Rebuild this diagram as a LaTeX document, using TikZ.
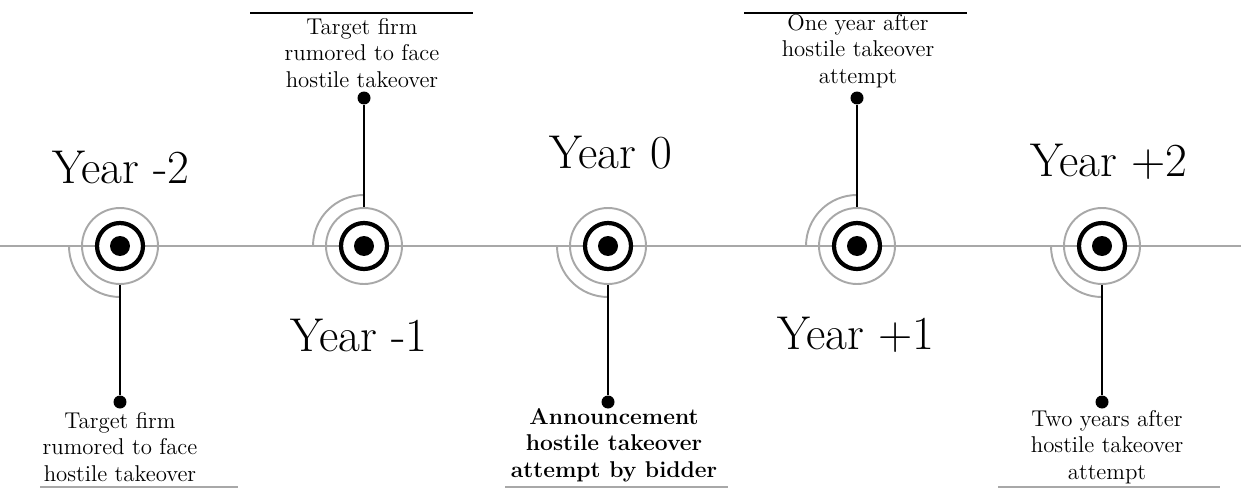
\documentclass[tikz,border=0pt]{standalone}
\usepackage{tikz}
\begin{document}
\begin{tikzpicture}[x=0.02cm,y=0.02cm]
		\definecolor{ringgray}{gray}{0.66}
		\tikzset{
			ring/.style={circle,draw=ringgray,line width=1.1pt,minimum size=1.52cm,inner sep=0pt},
			target/.style={circle,draw=black,line width=2.4pt,fill=white,minimum size=0.92cm,inner sep=0pt},
			bull/.style={circle,fill=black,minimum size=0.4cm,inner sep=0pt},
			pin/.style={circle,fill=black,minimum size=0.26cm,inner sep=0pt},
			stem/.style={line width=1.2pt},
			yearlabel/.style={font=\fontsize{27}{30}\selectfont},
			note/.style={align=center,font=\fontsize{13}{15.2}\selectfont,inner sep=0pt}
		}
		\useasboundingbox (0,0) rectangle (1241,488);
		% time axis
		\draw[ringgray,line width=1.1pt] (0,242)--(1241,242);
		% targets: index / x / arc end / stem anchor / pin height
		\foreach \i/\x/\a/\s/\p in {1/120/270/south/86, 2/364/90/north/390, 3/608/270/south/86, 4/857/90/north/390, 5/1102/270/south/86}{
			\coordinate (c\i) at (\x,242);
			\draw[ringgray,line width=1.1pt] (c\i) ++(180:51) arc[start angle=180,end angle=\a,radius=51];
			\node[ring] (r\i) at (c\i) {};
			\node[target] (t\i) at (c\i) {};
			\node[bull] (b\i) at (c\i) {};
			\node[pin] (d\i) at (\x,\p) {};
			\draw[stem] (r\i.\s)--(d\i);
		}
		% year labels
		\node[yearlabel] (y1) at (121,321) {Year -2};
		\node[yearlabel] (y2) at (359,153) {Year -1};
		\node[yearlabel] (y3) at (611,335) {Year 0};
		\node[yearlabel] (y4) at (856,153) {Year +1};
		\node[yearlabel] (y5) at (1109,326) {Year +2};
		% notes
		\node[note] (n1) at (120,41) {Target firm\\rumored to face\\hostile takeover};
		\node[note] (n2) at (362,435) {Target firm\\rumored to face\\hostile takeover};
		\node[note] (n3) at (614,43) {\bfseries Announcement\\\bfseries hostile takeover\\\bfseries attempt by bidder};
		\node[note] (n4) at (858,437) {One year after\\hostile takeover\\attempt};
		\node[note] (n5) at (1107,41) {Two years after\\hostile takeover\\attempt};
		% rules
		\draw[line width=1.2pt] (250,475)--(473,475) (744,475)--(967,475);
		\draw[ringgray,line width=1pt] (40,1)--(238,1) (505,1)--(728,1) (998,1)--(1220,1);
	\end{tikzpicture}
\end{document}
